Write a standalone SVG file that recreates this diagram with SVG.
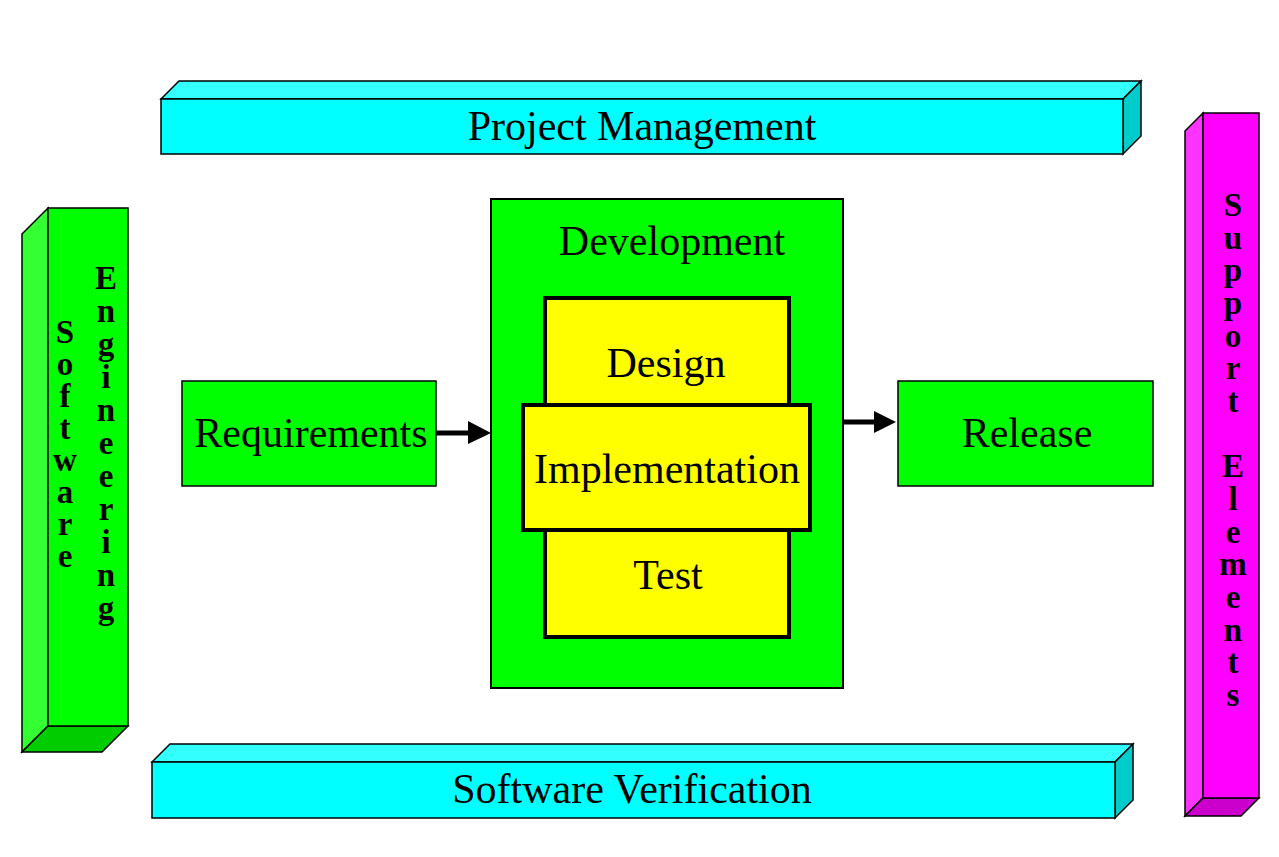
<svg xmlns="http://www.w3.org/2000/svg" width="1279" height="857" viewBox="0 0 1279 857">
<style>
.o{stroke:#000;stroke-width:1.5;stroke-linejoin:miter}
.cf{fill:#00ffff}.ct{fill:#33ffff}.cs{fill:#00cccc}
.gf{fill:#00ff00}.gs{fill:#33ff33}.gb{fill:#00cc00}
.mf{fill:#ff00ff}.ms{fill:#ff33ff}.mb{fill:#cc00cc}
.y{fill:#ffff00;stroke:#000;stroke-width:4}
.t{font-family:"Liberation Serif","Times New Roman",serif;font-size:42px;fill:#000;text-anchor:middle}
.v{font-family:"Liberation Serif","Times New Roman",serif;font-size:33px;font-weight:bold;fill:#000;text-anchor:middle}
</style>
<rect width="1279" height="857" fill="#fff"/>
<g id="project-management">
<polygon class="o ct" points="161,99 179,81 1141,81 1123,99"/>
<polygon class="o cs" points="1123,99 1141,81 1141,136 1123,154"/>
<rect class="o cf" x="161" y="99" width="962" height="55"/>
<text class="t" x="642" y="140">Project Management</text>
</g>
<g id="software-verification">
<polygon class="o ct" points="152,762 170,744 1133,744 1115,762"/>
<polygon class="o cs" points="1115,762 1133,744 1133,800 1115,818"/>
<rect class="o cf" x="152" y="762" width="963" height="56"/>
<text class="t" x="632" y="803">Software Verification</text>
</g>
<g id="software-engineering">
<polygon class="o gs" points="22,234 48,208 48,726 22,752"/>
<polygon class="o gb" points="22,752 48,726 128,726 102,752"/>
<rect class="o gf" x="48" y="208" width="80" height="518"/>
<text class="v"><tspan x="65" y="343">S</tspan><tspan x="65" y="375">o</tspan><tspan x="65" y="407">f</tspan><tspan x="65" y="439">t</tspan><tspan x="65" y="471">w</tspan><tspan x="65" y="503">a</tspan><tspan x="65" y="535">r</tspan><tspan x="65" y="567">e</tspan></text>
<text class="v"><tspan x="106" y="289">E</tspan><tspan x="106" y="322">n</tspan><tspan x="106" y="355">g</tspan><tspan x="106" y="388">i</tspan><tspan x="106" y="421">n</tspan><tspan x="106" y="454">e</tspan><tspan x="106" y="487">e</tspan><tspan x="106" y="520">r</tspan><tspan x="106" y="553">i</tspan><tspan x="106" y="586">n</tspan><tspan x="106" y="619">g</tspan></text>
</g>
<g id="support-elements">
<polygon class="o ms" points="1185,131 1203,113 1203,798 1185,816"/>
<polygon class="o mb" points="1185,816 1203,798 1259,798 1241,816"/>
<rect class="o mf" x="1203" y="113" width="56" height="685"/>
<text class="v"><tspan x="1233" y="216">S</tspan><tspan x="1233" y="249">u</tspan><tspan x="1233" y="281">p</tspan><tspan x="1233" y="314">p</tspan><tspan x="1233" y="347">o</tspan><tspan x="1233" y="379">r</tspan><tspan x="1233" y="412">t</tspan><tspan x="1233" y="477">E</tspan><tspan x="1233" y="510">l</tspan><tspan x="1233" y="543">e</tspan><tspan x="1233" y="575">m</tspan><tspan x="1233" y="608">e</tspan><tspan x="1233" y="641">n</tspan><tspan x="1233" y="673">t</tspan><tspan x="1233" y="706">s</tspan></text>
</g>
<g id="requirements">
<rect class="o gf" x="182" y="381" width="254" height="105"/>
<text class="t" x="311" y="447">Requirements</text>
</g>
<g id="release">
<rect class="o gf" x="898" y="381" width="255" height="105"/>
<text class="t" x="1027" y="447">Release</text>
</g>
<g id="development">
<rect class="gf" x="491" y="199" width="352" height="489" stroke="#000" stroke-width="2"/>
<text class="t" x="672" y="255">Development</text>
</g>
<g id="design-test">
<rect class="y" x="545" y="298" width="244" height="339"/>
<text class="t" x="666" y="377">Design</text>
<text class="t" x="668" y="589">Test</text>
</g>
<g id="implementation">
<rect class="y" x="523" y="405" width="287" height="125"/>
<text class="t" x="667" y="483">Implementation</text>
</g>
<g id="connectors">
<line x1="436" y1="433" x2="469" y2="433" stroke="#000" stroke-width="5"/>
<polygon points="468,421 491,433 468,444" fill="#000"/>
<line x1="844" y1="422" x2="875" y2="422" stroke="#000" stroke-width="5"/>
<polygon points="874,411 896,422 874,433" fill="#000"/>
</g>
</svg>
